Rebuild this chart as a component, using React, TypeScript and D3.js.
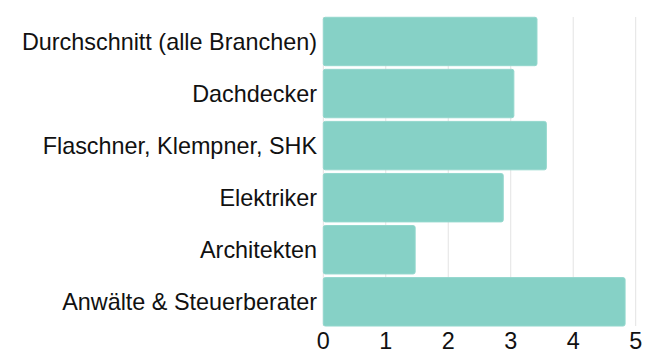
import React from "react";
import * as d3 from "d3";

const categories = [
  "Durchschnitt (alle Branchen)",
  "Dachdecker",
  "Flaschner, Klempner, SHK",
  "Elektriker",
  "Architekten",
  "Anwälte & Steuerberater",
];
const values = [3.42, 3.05, 3.57, 2.88, 1.47, 4.83];
const ticks = [0, 1, 2, 3, 4, 5];

export default function App() {
  const W = 659;
  const H = 356;
  const x = d3.scaleLinear().domain([0, 5]).range([323.3, 635.7]);
  const y = d3
    .scaleBand<string>()
    .domain(categories)
    .range([15.45, 327.85])
    .paddingInner(0.07)
    .paddingOuter(0.035);
  const font = "'Liberation Sans', Arial, sans-serif";
  return (
    <svg
      width={W}
      height={H}
      style={{ position: "absolute", left: 0, top: 0 }}
      fontFamily={font}
    >
      {ticks.map((t) => (
        <line
          key={"g" + t}
          x1={x(t)}
          x2={x(t)}
          y1={17}
          y2={326}
          stroke="#e3e3e3"
          strokeWidth={1}
        />
      ))}
      {categories.map((c, i) => (
        <rect
          key={c}
          x={x(0)}
          y={y(c)!}
          width={x(values[i]) - x(0)}
          height={y.bandwidth()}
          rx={2}
          fill="#86d1c6"
          stroke="#93d7cd"
          strokeWidth={1}
        />
      ))}
      {categories.map((c) => (
        <text
          key={"l" + c}
          x={317}
          y={y(c)! + y.bandwidth() / 2}
          dy="0.35em"
          textAnchor="end"
          fontSize={23.4}
          fill="#111"
        >
          {c}
        </text>
      ))}
      {ticks.map((t) => (
        <text
          key={"t" + t}
          x={x(t)}
          y={349}
          textAnchor="middle"
          fontSize={23.4}
          fill="#111"
        >
          {t}
        </text>
      ))}
    </svg>
  );
}
